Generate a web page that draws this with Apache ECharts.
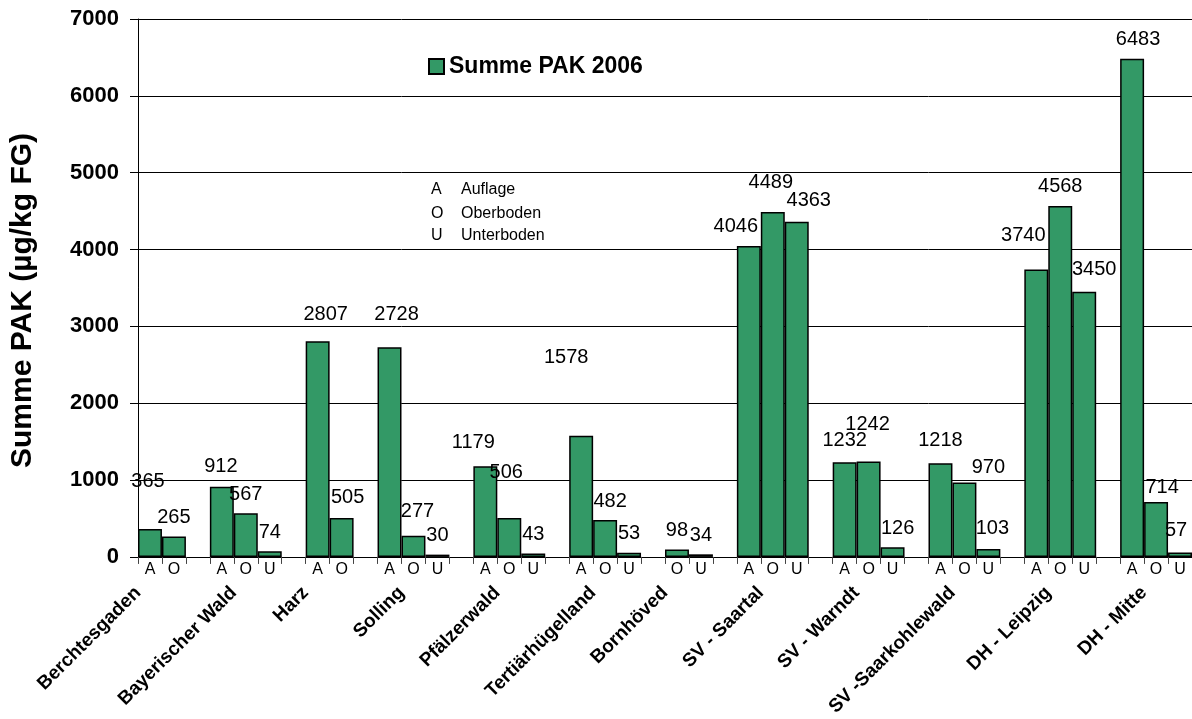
<!DOCTYPE html>
<html><head><meta charset="utf-8">
<script src="https://cdn.jsdelivr.net/npm/echarts@6/dist/echarts.min.js"></script>
<style>html,body{margin:0;padding:0;background:#fff}#c{width:1192px;height:719px}</style>
</head><body><div id="c"></div>
<script>
// ---- data ----
const horizonLabels = ['A','O','','A','O','U','','A','O','','A','O','U','','A','O','U','','A','O','U','','O','U','','A','O','U','','A','O','U','','A','O','U','','A','O','U','','A','O','U'];
const sumPAK = [365,265,null,912,567,74,null,2807,505,null,2728,277,30,null,1179,506,43,null,1578,482,53,null,98,34,null,4046,4489,4363,null,1232,1242,126,null,1218,970,103,null,3740,4568,3450,null,6483,714,57];
const siteTickLabels = ['Berchtesgaden','','','','Bayerischer Wald','','','Harz','','','','Solling','','','','Pfälzerwald','','','','Tertiärhügelland','','','Bornhöved','','','','SV - Saartal','','','','SV - Warndt','','','','SV -Saarkohlewald','','','','DH - Leipzig','','','','DH - Mitte',''];
const seriesName = 'Summe PAK 2006';
const yTitle = 'Summe PAK (µg/kg FG)';
const horizonKeyLetters = ['A','O','U'];
const horizonKeyNames = ['Auflage','Oberboden','Unterboden'];

// ---- style ----
const FONT = '"Liberation Sans", Arial, sans-serif';
const GREEN = '#339966';
// manual label nudges (px) as in the original
const labelShift = {0:[-2,-28],3:[-1,-1],7:[8,-8],8:[6,-2],10:[7,-14],11:[4,-5],14:[-12,-5],15:[-3,-27],18:[-15,-59],19:[5,1],25:[-13,-1],26:[-2,-10],27:[12,-2],29:[0,-3],30:[-1,-18],31:[5,0],33:[0,-4],34:[24,4],35:[4,-2],37:[-13,-15],39:[10,-3],41:[6,0],42:[6,4],43:[-4,-3]};

const barData = sumPAK.map((v, i) => {
  if (v === null) return null;
  const s = labelShift[i];
  return s ? { value: v, label: { offset: s } } : v;
});

const chart = echarts.init(document.getElementById('c'), null, { renderer: 'canvas' });
const keyGraphics = [];
const keyY = [190, 214, 236];
horizonKeyLetters.forEach((l, i) => {
  keyGraphics.push({ type: 'text', x: 431, y: keyY[i], style: { text: l, font: '16px ' + FONT, fill: '#000', verticalAlign: 'middle' } });
  keyGraphics.push({ type: 'text', x: 461, y: keyY[i], style: { text: horizonKeyNames[i], font: '16px ' + FONT, fill: '#000', verticalAlign: 'middle' } });
});

chart.setOption({
  animation: false,
  backgroundColor: '#fff',
  textStyle: { fontFamily: FONT },
  grid: { left: 137.5, top: 19, width: 1059, height: 538, containLabel: false },
  legend: {
    left: 428, top: 55, padding: 0, itemWidth: 15, itemHeight: 15, itemGap: 10,
    icon: 'rect',
    textStyle: { fontSize: 23, fontWeight: 'bold', color: '#000', fontFamily: FONT },
    data: [seriesName]
  },
  xAxis: [{
    type: 'category', data: horizonLabels, boundaryGap: true, position: 'bottom',
    axisLine: { show: true, lineStyle: { color: '#000', width: 1 } },
    axisTick: { show: true, interval: 0, length: 7, lineStyle: { color: '#444', width: 1 } },
    axisLabel: { interval: 0, fontSize: 16, color: '#000', margin: 5, fontFamily: FONT },
    splitLine: { show: false }
  }, {
    type: 'category', data: siteTickLabels, boundaryGap: true, position: 'bottom',
    axisLine: { show: false }, axisTick: { show: false }, splitLine: { show: false },
    axisLabel: { interval: 0, rotate: 45, fontSize: 19, fontWeight: 'bold', color: '#000', margin: 21, padding: [0, 17, 0, 0], fontFamily: FONT }
  }],
  yAxis: {
    type: 'value', min: 0, max: 7000, interval: 1000,
    name: yTitle, nameLocation: 'middle', nameRotate: 90, nameGap: 100,
    nameTextStyle: { fontSize: 30, fontWeight: 'bold', color: '#000', padding: [0, 25, 0, 0], fontFamily: FONT },
    axisLine: { show: true, lineStyle: { color: '#000', width: 1 } },
    axisTick: { show: true, length: 8, lineStyle: { color: '#000' } },
    axisLabel: { fontSize: 22, fontWeight: 'bold', color: '#000', margin: 19, fontFamily: FONT, formatter: v => String(v) },
    splitLine: { show: true, lineStyle: { color: '#000', width: 1 } }
  },
  series: [{
    name: seriesName, type: 'bar', xAxisIndex: 0, data: barData,
    barCategoryGap: '0%', barGap: '0%',
    itemStyle: { color: GREEN, borderColor: '#000', borderWidth: 1.5 },
    label: { show: true, position: 'top', distance: 9, fontSize: 20, color: '#000', fontFamily: FONT }
  }],
  graphic: keyGraphics
});
</script></body></html>
